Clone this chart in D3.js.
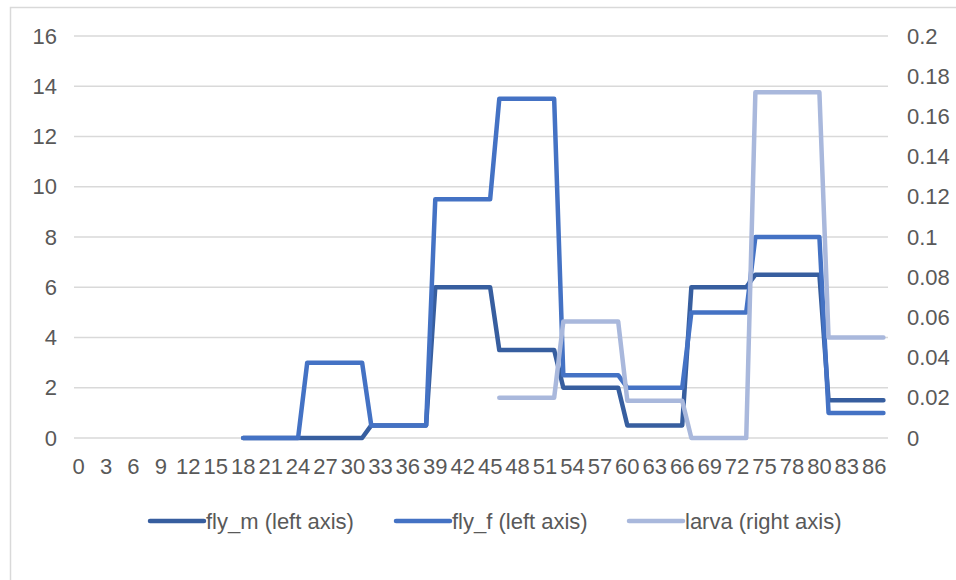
<!DOCTYPE html>
<html>
<head>
<meta charset="utf-8">
<script src="https://cdn.jsdelivr.net/npm/d3@7"></script>
<style>
  html, body { margin: 0; padding: 0; background: #ffffff; }
  svg { display: block; font-family: "Liberation Sans", Arial, sans-serif; }
</style>
</head>
<body>
<svg id="chart" width="956" height="580"></svg>
<script>
// Day index of each sample (category axis, every 3rd one labelled)
const categories = [
   0,  1,  2,  3,  4,  5,  6,  7,  8,  9,
  10, 11, 12, 13, 14, 15, 16, 17, 18, 19,
  20, 21, 22, 23, 24, 25, 26, 27, 28, 29,
  30, 31, 32, 33, 34, 35, 36, 37, 38, 39,
  40, 41, 42, 43, 44, 45, 46, 47, 48, 49,
  50, 51, 52, 53, 54, 55, 56, 57, 58, 59,
  60, 61, 62, 63, 64, 65, 66, 67, 68, 69,
  70, 71, 72, 73, 74, 75, 76, 77, 78, 79,
  79.5, 80, 81, 82, 83, 84, 85, 86, 87
];

// Male flies (left axis)
const flyM = [
  null, null, null, null, null, null, null, null, null, null,
  null, null, null, null, null, null, null, null, 0, 0,
  0, 0, 0, 0, 0, 0, 0, 0, 0, 0,
  0, 0, 0.5, 0.5, 0.5, 0.5, 0.5, 0.5, 0.5, 6,
  6, 6, 6, 6, 6, 6, 3.5, 3.5, 3.5, 3.5,
  3.5, 3.5, 3.5, 2, 2, 2, 2, 2, 2, 2,
  0.5, 0.5, 0.5, 0.5, 0.5, 0.5, 0.5, 6, 6, 6,
  6, 6, 6, 6, 6.5, 6.5, 6.5, 6.5, 6.5, 6.5,
  6.5, 6.5, 1.5, 1.5, 1.5, 1.5, 1.5, 1.5, 1.5
];

// Female flies (left axis)
const flyF = [
  null, null, null, null, null, null, null, null, null, null,
  null, null, null, null, null, null, null, null, 0, 0,
  0, 0, 0, 0, 0, 3, 3, 3, 3, 3,
  3, 3, 0.5, 0.5, 0.5, 0.5, 0.5, 0.5, 0.5, 9.5,
  9.5, 9.5, 9.5, 9.5, 9.5, 9.5, 13.5, 13.5, 13.5, 13.5,
  13.5, 13.5, 13.5, 2.5, 2.5, 2.5, 2.5, 2.5, 2.5, 2.5,
  2, 2, 2, 2, 2, 2, 2, 5, 5, 5,
  5, 5, 5, 5, 8, 8, 8, 8, 8, 8,
  8, 8, 1, 1, 1, 1, 1, 1, 1
];

// Larvae (right axis)
const larva = [
  null, null, null, null, null, null, null, null, null, null,
  null, null, null, null, null, null, null, null, null, null,
  null, null, null, null, null, null, null, null, null, null,
  null, null, null, null, null, null, null, null, null, null,
  null, null, null, null, null, null, 0.02, 0.02, 0.02, 0.02,
  0.02, 0.02, 0.02, 0.058, 0.058, 0.058, 0.058, 0.058, 0.058, 0.058,
  0.0185, 0.0185, 0.0185, 0.0185, 0.0185, 0.0185, 0.0185, 0, 0, 0,
  0, 0, 0, 0, 0.172, 0.172, 0.172, 0.172, 0.172, 0.172,
  0.172, 0.172, 0.05, 0.05, 0.05, 0.05, 0.05, 0.05, 0.05
];

const leftTicks = [0, 2, 4, 6, 8, 10, 12, 14, 16];
const rightTicks = [0, 0.02, 0.04, 0.06, 0.08, 0.1, 0.12, 0.14, 0.16, 0.18, 0.2];

const seriesNames = ["fly_m (left axis)", "fly_f (left axis)", "larva (right axis)"];
const seriesColors = ["#375E9F", "#4472C4", "#A9B8DC"];

const svg = d3.select("#chart");
const W = 956, H = 580;
const plot = { left: 74, right: 888, top: 36, bottom: 438 };
const textColor = "#595959";
const gridColor = "#D9D9D9";
const fontSize = 22;

// chart frame (runs off the right and bottom edges)
svg.append("rect")
  .attr("x", 10.5).attr("y", 7.5)
  .attr("width", W).attr("height", H)
  .attr("fill", "none").attr("stroke", gridColor).attr("stroke-width", 1.5);

const x = d3.scaleBand()
  .domain(d3.range(categories.length))
  .range([plot.left, plot.right])
  .padding(0);
const cx = i => x(i) + x.bandwidth() / 2;

const yL = d3.scaleLinear().domain([0, 16]).range([plot.bottom, plot.top]);
const yR = d3.scaleLinear().domain([0, 0.2]).range([plot.bottom, plot.top]);

// horizontal gridlines
svg.append("g")
  .selectAll("line")
  .data(leftTicks)
  .join("line")
  .attr("x1", plot.left).attr("x2", plot.right)
  .attr("y1", d => yL(d)).attr("y2", d => yL(d))
  .attr("stroke", gridColor).attr("stroke-width", 1.5);

// left axis
const axL = svg.append("g")
  .attr("transform", `translate(${plot.left},0)`)
  .call(d3.axisLeft(yL).tickValues(leftTicks).tickSize(0).tickPadding(17).tickFormat(d3.format("d")));
axL.select(".domain").remove();

// right axis
const axR = svg.append("g")
  .attr("transform", `translate(${plot.right},0)`)
  .call(d3.axisRight(yR).tickValues(rightTicks).tickSize(0).tickPadding(19).tickFormat(d => String(+d.toFixed(2))));
axR.select(".domain").remove();

// category axis
const axB = svg.append("g")
  .attr("transform", `translate(0,${plot.bottom})`)
  .call(d3.axisBottom(x)
    .tickValues(d3.range(0, categories.length, 3))
    .tickSize(0).tickPadding(36)
    .tickFormat(i => categories[i]));
axB.select(".domain").remove();

svg.selectAll(".tick text")
  .attr("fill", textColor)
  .style("font-size", fontSize + "px")
  .style("font-family", "'Liberation Sans', Arial, sans-serif");
axB.selectAll(".tick text").attr("dy", "0");

// series lines
const seriesData = [
  { values: flyM, y: yL },
  { values: flyF, y: yL },
  { values: larva, y: yR }
];

seriesData.forEach((s, k) => {
  const line = d3.line()
    .defined(d => d != null)
    .x((d, i) => cx(i))
    .y(d => s.y(d));
  svg.append("path")
    .datum(s.values)
    .attr("d", line)
    .attr("fill", "none")
    .attr("stroke", seriesColors[k])
    .attr("stroke-width", 4.5)
    .attr("stroke-linejoin", "round")
    .attr("stroke-linecap", "round");
});

// legend
const legendY = 521;
const legendX = [150, 396, 629];
const legend = svg.append("g");
seriesNames.forEach((name, k) => {
  const g = legend.append("g").attr("transform", `translate(${legendX[k]},${legendY})`);
  g.append("line")
    .attr("x1", 0).attr("x2", 54)
    .attr("y1", 0).attr("y2", 0)
    .attr("stroke", seriesColors[k])
    .attr("stroke-width", 4.5)
    .attr("stroke-linecap", "round");
  g.append("text")
    .attr("x", 56).attr("y", 0)
    .attr("dy", "0.35em")
    .attr("fill", textColor)
    .style("font-size", fontSize + "px")
    .text(name);
});
</script>
</body>
</html>
